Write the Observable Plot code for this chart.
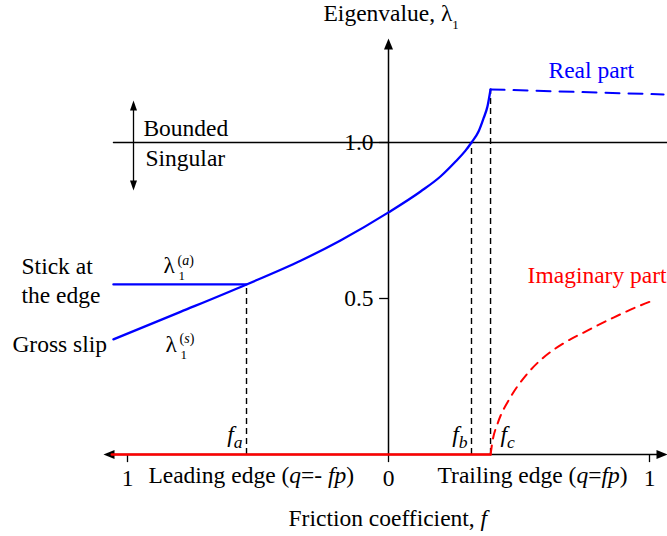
<!DOCTYPE html>
<html><head><meta charset="utf-8">
<script src="https://cdn.jsdelivr.net/npm/d3@7"></script>
<script src="https://cdn.jsdelivr.net/npm/@observablehq/plot@0.6"></script>
<style>body{margin:0;background:#fff}</style>
</head><body><div id="chart"></div>
<script>
// ---- data ----
// gross-slip eigenvalue (real, solid blue) up to f_c
const fGrossSlip = [-1.054, -0.797, -0.544, -0.337, -0.184, 0, 0.123, 0.199, 0.257, 0.295, 0.318, 0.345, 0.364, 0.379, 0.391];
const lambdaGrossSlip = [0.369, 0.457, 0.545, 0.621, 0.686, 0.776, 0.843, 0.891, 0.939, 0.974, 1.0, 1.035, 1.077, 1.115, 1.170];
// stick-at-the-edge eigenvalue (constant)
const fStick = [-1.054, -0.544];
const lambdaStick = [0.545, 0.545];
// real part beyond f_c (dashed blue)
const fReal = [0.391, 1.054];
const lambdaReal = [1.170, 1.154];
// imaginary part (zero up to f_c, then dashed red)
const fImagZero = [-1.06, 0.391];
const lambdaImagZero = [0, 0];
const fImag = [0.391, 0.399, 0.418, 0.467, 0.533, 0.594, 0.670, 0.762, 0.862, 0.966, 1.015];
const lambdaImag = [0, 0.045, 0.099, 0.183, 0.260, 0.311, 0.356, 0.397, 0.439, 0.478, 0.494];
// critical friction coefficients
const critNames = ["a", "b", "c"];
const critF = [-0.544, 0.318, 0.391];
const critLambda = [0.545, 1.0, 1.170];
// ticks
const xTicks = [-1, 0, 1];
const xTickLabels = ["1", "0", "1"];
const yTicks = [0.5, 1.0];
const yTickLabels = ["0.5", "1.0"];

const pts = (xs, ys) => xs.map((x, i) => ({x, y: ys[i]}));
const crit = critNames.map((n, i) => ({name: n, f: critF[i], v: critLambda[i]}));
const xt = xTicks.map((t, i) => ({t, label: xTickLabels[i]}));
const yt = yTicks.map((t, i) => ({t, label: yTickLabels[i]}));

// filled arrowhead, tip at origin pointing right
const head = {draw(ctx) { ctx.moveTo(0, 0); ctx.lineTo(-11, -4.5); ctx.lineTo(-11, 4.5); ctx.closePath(); }};
const headSmall = {draw(ctx) { ctx.moveTo(0, 0); ctx.lineTo(-10, -3.5); ctx.lineTo(-10, 3.5); ctx.closePath(); }};

const FONT = '"Liberation Serif", "Times New Roman", Times, serif';
const FS = 23.5;
const T = (data, o) => Plot.text(data, {textAnchor: "start", lineAnchor: "bottom", fontSize: FS, fontFamily: FONT, fill: "black", ...o});
const one = [0];

const chart = Plot.plot({
  width: 667, height: 536, margin: 0,
  x: {type: "linear", domain: [-1, 1], range: [127, 649], axis: null},
  y: {type: "linear", domain: [0, 1], range: [454, 142], axis: null},
  style: {fontFamily: FONT, fontSize: FS + "px", background: "white", overflow: "visible"},
  marks: [
    // horizontal line at lambda = 1
    Plot.line(pts([-1.054, 1.069], [1, 1]), {x: "x", y: "y", stroke: "black", strokeWidth: 1.3}),
    // bounded / singular double arrow
    Plot.line(pts([-0.977, -0.977], [0.862, 1.12]), {x: "x", y: "y", stroke: "black", strokeWidth: 1.3}),
    Plot.dot(one, {x: -0.977, y: 1.135, symbol: headSmall, rotate: -90, fill: "black", stroke: null}),
    Plot.dot(one, {x: -0.977, y: 0.846, symbol: headSmall, rotate: 90, fill: "black", stroke: null}),
    // axes
    Plot.line(pts([-1.06, 1.05], [0, 0]), {x: "x", y: "y", stroke: "black", strokeWidth: 1.5}),
    Plot.dot(one, {x: -1.092, y: 0, symbol: head, rotate: 180, fill: "black", stroke: null}),
    Plot.dot(one, {x: 1.069, y: 0, symbol: head, rotate: 0, fill: "black", stroke: null}),
    Plot.line(pts([0, 0], [0, 1.31]), {x: "x", y: "y", stroke: "black", strokeWidth: 1.5}),
    Plot.dot(one, {x: 0, y: 1.333, symbol: head, rotate: -90, fill: "black", stroke: null}),
    Plot.ruleX(xt, {x: "t", y1: 0, y2: -0.026, stroke: "black", strokeWidth: 1.3}),
    Plot.ruleY(yt, {y: "t", x1: -0.034, x2: 0, stroke: "black", strokeWidth: 1.3}),
    // critical dashed verticals
    Plot.ruleX(crit, {x: "f", y1: 0, y2: "v", stroke: "black", strokeWidth: 1.4, strokeDasharray: "6,4"}),
    // imaginary part
    Plot.line(pts(fImagZero, lambdaImagZero), {x: "x", y: "y", stroke: "#ff0000", strokeWidth: 2.5}),
    Plot.line(pts(fImag, lambdaImag), {x: "x", y: "y", stroke: "#ff0000", strokeWidth: 2, strokeDasharray: "9,7", curve: "monotone-x"}),
    // real part
    Plot.line(pts(fStick, lambdaStick), {x: "x", y: "y", stroke: "#0000ff", strokeWidth: 2.3}),
    Plot.line(pts(fGrossSlip, lambdaGrossSlip), {x: "x", y: "y", stroke: "#0000ff", strokeWidth: 2.3, curve: "monotone-x"}),
    Plot.line(pts(fReal, lambdaReal), {x: "x", y: "y", stroke: "#0000ff", strokeWidth: 2, strokeDasharray: "14,9"}),
    // tick labels
    T(xt, {x: "t", y: 0, dy: 31, text: "label", textAnchor: "middle"}),
    T(yt, {x: 0, y: "t", dx: -15, text: "label", textAnchor: "end", lineAnchor: "middle"}),
    // critical labels
    T(crit.filter(d => d.name !== "c"), {x: "f", y: 0, dx: -4, dy: -13, textAnchor: "end", text: d => `<i>f</i><sb><i>${d.name}</i></sb>`}),
    T(crit.filter(d => d.name === "c"), {x: "f", y: 0, dx: 10, dy: -13, text: d => `<i>f</i><sb><i>${d.name}</i></sb>`}),
    // annotations
    T(one, {x: -0.249, y: 1.388, text: () => "Eigenvalue, λ<sub>1</sub>"}),
    T(one, {x: 0.613, y: 1.208, text: () => "Real part", fill: "#0000ff"}),
    T(one, {x: 0.533, y: 0.551, text: () => "Imaginary part", fill: "#ff0000"}),
    T(one, {x: -0.939, y: 1.022, text: () => "Bounded"}),
    T(one, {x: -0.931, y: 0.926, text: () => "Singular"}),
    T(one, {x: -1.406, y: 0.580, text: () => "Stick at"}),
    T(one, {x: -1.406, y: 0.484, text: () => "the edge"}),
    T(one, {x: -1.441, y: 0.327, text: () => "Gross slip"}),
    T(one, {x: -0.862, y: 0.583, text: () => "λ"}),
    T(one, {x: -0.862, y: 0.583, dx: 15, dy: 7, fontSize: 13, text: () => "1"}),
    T(one, {x: -0.862, y: 0.583, dx: 14, dy: -8, fontSize: 14, text: () => "(<i>a</i>)"}),
    T(one, {x: -0.854, y: 0.327, text: () => "λ"}),
    T(one, {x: -0.854, y: 0.327, dx: 15, dy: 7, fontSize: 13, text: () => "1"}),
    T(one, {x: -0.854, y: 0.327, dx: 14, dy: -9, fontSize: 14, text: () => "(<i>s</i>)"}),
    T(one, {x: -0.920, y: -0.090, text: () => "Leading edge (<i>q</i>=- <i>fp</i>)"}),
    T(one, {x: 0.188, y: -0.090, text: () => "Trailing edge (<i>q</i>=<i>fp</i>)"}),
    T(one, {x: -0.383, y: -0.228, text: () => "Friction coefficient, <i>f</i>"})
  ]
});

// rich text: <i> italic, <sub> small subscript, <sb> large subscript
function rich(svg) {
  d3.select(svg).selectAll("text").each(function () {
    const t = this.textContent;
    if (!t.includes("<")) return;
    const el = d3.select(this);
    el.text(null);
    const re = /<(\/?)(i|sub|sb)>/g;
    let italic = false, sub = null, cur = 0, last = 0, m;
    const emit = s => {
      if (!s) return;
      const ts = el.append("tspan").text(s);
      if (italic) ts.attr("font-style", "italic");
      if (sub) ts.attr("font-size", sub === "sb" ? "0.75em" : "0.55em");
      const target = sub === "sb" ? 6 : sub ? 8 : 0;
      if (target !== cur) { ts.attr("dy", target - cur); cur = target; }
    };
    while ((m = re.exec(t))) {
      emit(t.slice(last, m.index));
      const on = m[1] !== "/";
      if (m[2] === "i") italic = on; else sub = on ? m[2] : null;
      last = re.lastIndex;
    }
    emit(t.slice(last));
  });
}
rich(chart);
document.getElementById("chart").appendChild(chart);
</script>
</body></html>
